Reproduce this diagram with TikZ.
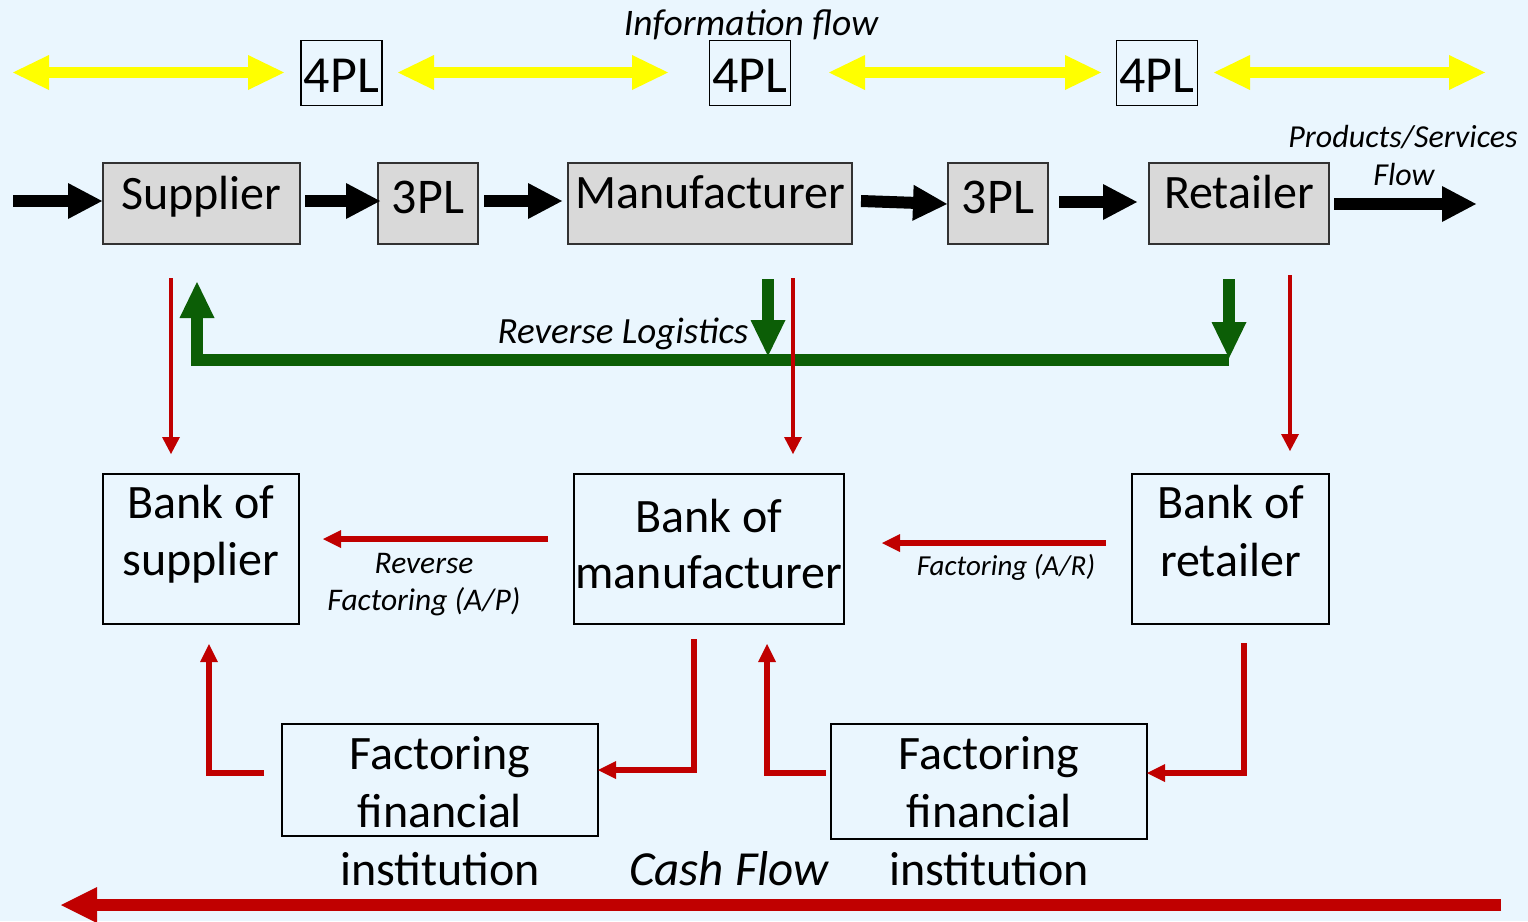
\documentclass[tikz,border=0pt]{standalone}
\usepackage{fontspec}
\setmainfont{Carlito}
\usetikzlibrary{arrows.meta}
\definecolor{bgblue}{RGB}{234,246,254}
\definecolor{cashred}{RGB}{192,0,0}
\definecolor{revgreen}{RGB}{12,94,6}
\definecolor{infoyellow}{RGB}{255,255,0}
\definecolor{boxgray}{RGB}{217,217,217}
\definecolor{boxedge}{RGB}{50,50,50}
\begin{document}
\begin{tikzpicture}[x=1pt,y=-1pt,
  every node/.style={inner sep=0pt,outer sep=0pt},
  bigfont/.style={font=\fontsize{48}{57}\selectfont},
  grayblock/.style={draw=boxedge,line width=1.8pt,fill=boxgray,minimum height=81pt},
  plbox/.style={draw=black,line width=1.8pt,minimum height=65pt,minimum width=81pt,
    text height=51.5pt,text depth=13.5pt,font=\fontsize{52}{60}\selectfont},
  bankbox/.style={draw=black,line width=1.8pt},
  infoarrow/.style={draw=infoyellow,line width=11pt,
    arrows={Triangle[length=36pt,width=35pt,line width=0pt]-Triangle[length=36pt,width=35pt,line width=0pt]}},
  goodsarrow/.style={draw=black,line width=12pt,
    arrows={-Triangle[length=34pt,width=36pt,line width=0pt]}},
  revarrow/.style={draw=revgreen,line width=12pt,line join=miter,
    arrows={-Triangle[length=36pt,width=35pt,line width=0pt]}},
  paythin/.style={draw=cashred,line width=4pt,
    arrows={-Triangle[length=17pt,width=18pt,line width=0pt]}},
  paymid/.style={draw=cashred,line width=5.5pt,line join=miter,
    arrows={-Triangle[length=18pt,width=18pt,line width=0pt]}},
  paybig/.style={draw=cashred,line width=12pt,
    arrows={-Triangle[length=36pt,width=36pt,line width=0pt]}},
  flowlabel/.style={anchor=base,font=\itshape\fontsize{#1}{#1}\selectfont}
]
% canvas
\useasboundingbox (0,0) rectangle (1528,921);
\fill[bgblue] (0,0) rectangle (1528,921);

% ---------- information flow (4PL) ----------
\node[flowlabel=37.5] (infolbl) at (751,35) {Information flow};
\node[plbox] (pla) at (341.5,73) {4PL};
\node[plbox] (plb) at (750,73) {4PL};
\node[plbox] (plc) at (1157,73) {4PL};
\coordinate (ia1) at (13,72.5);   \coordinate (ia2) at (284,72.5);
\coordinate (ib1) at (398,72.5);  \coordinate (ib2) at (668,72.5);
\coordinate (ic1) at (829,72.5);  \coordinate (ic2) at (1101,72.5);
\coordinate (id1) at (1214,72.5); \coordinate (id2) at (1485,72.5);
\draw[infoarrow] (ia1) -- (ia2);
\draw[infoarrow] (ib1) -- (ib2);
\draw[infoarrow] (ic1) -- (ic2);
\draw[infoarrow] (id1) -- (id2);

% ---------- products / services flow ----------
\node[grayblock,bigfont,minimum width=197pt,text height=46pt,text depth=35pt] (sup) at (201.5,203.5) {Supplier};
\node[grayblock,font=\fontsize{50}{60}\selectfont,minimum width=100pt,text height=50pt,text depth=31pt] (tpla) at (428,203.5) {3PL};
\node[grayblock,bigfont,minimum width=284pt,text height=45pt,text depth=36pt] (man) at (710,203.5) {Manufacturer};
\node[grayblock,font=\fontsize{50}{60}\selectfont,minimum width=100pt,text height=50pt,text depth=31pt] (tplb) at (998,203.5) {3PL};
\node[grayblock,bigfont,minimum width=180pt,text height=45pt,text depth=36pt] (ret) at (1239,203.5) {Retailer};
\node[flowlabel=32] (pslbl) at (1403,147) {Products/Services};
\node[flowlabel=32] (pslblb) at (1404,185) {Flow};

\coordinate (ga0) at (13,201);   \coordinate (gb0) at (102,201);
\coordinate (ga1) at (305,201);  \coordinate (gb1) at (380,201);
\coordinate (ga2) at (484,201);  \coordinate (gb2) at (562,201);
\coordinate (ga3) at (861,201);  \coordinate (gb3) at (947,204);
\coordinate (ga4) at (1059,202); \coordinate (gb4) at (1137,202);
\coordinate (ga5) at (1334,204); \coordinate (gb5) at (1476,204);
\draw[goodsarrow] (ga0) -- (gb0);
\draw[goodsarrow] (ga1) -- (gb1);
\draw[goodsarrow] (ga2) -- (gb2);
\draw[goodsarrow] (ga3) -- (gb3);
\draw[goodsarrow] (ga4) -- (gb4);
\draw[goodsarrow] (ga5) -- (gb5);

% ---------- reverse logistics ----------
\node[flowlabel=37] (rllbl) at (623,343) {Reverse Logistics};
\coordinate (rvs) at (1229,359.5); \coordinate (rvt) at (197,282);
\draw[revarrow] (rvs) -| (rvt);
\coordinate (rma) at (768,279);  \coordinate (rmb) at (768,356);
\coordinate (rra) at (1229,279); \coordinate (rrb) at (1229,358);
\draw[revarrow] (rma) -- (rmb);
\draw[revarrow] (rra) -- (rrb);

% ---------- payments to the banks ----------
\coordinate (psa) at (171,278);  \coordinate (psb) at (171,454);
\coordinate (pma) at (793,278);  \coordinate (pmb) at (793,454);
\coordinate (pra) at (1290,275); \coordinate (prb) at (1290,451);
\draw[paythin] (psa) -- (psb);
\draw[paythin] (pma) -- (pmb);
\draw[paythin] (pra) -- (prb);

% ---------- banks ----------
\node[bankbox,bigfont,minimum width=196pt,text height=44pt,text depth=106pt]
  (bsup) at (201,549) {\fontsize{48}{57}\selectfont\parbox[t]{196pt}{\centering Bank of\\supplier}};
\node[bankbox,bigfont,minimum width=270pt,text height=58pt,text depth=92pt]
  (bman) at (709,549) {\fontsize{48}{56}\selectfont\parbox[t]{270pt}{\centering Bank of\\manufacturer}};
\node[bankbox,bigfont,minimum width=197pt,text height=44pt,text depth=106pt]
  (bret) at (1230.5,549) {\fontsize{48}{58}\selectfont\parbox[t]{197pt}{\centering Bank of\\retailer}};

\coordinate (fpa) at (548,539);  \coordinate (fpb) at (323,539);
\coordinate (fra) at (1106,543); \coordinate (frb) at (882,543);
\draw[paymid,line width=6pt] (fpa) -- (fpb);
\draw[paymid,line width=6pt] (fra) -- (frb);
\node[flowlabel=31.5] (aplbl) at (424,573) {Reverse};
\node[flowlabel=31.5] (aplblb) at (424,610) {Factoring (A/P)};
\node[flowlabel=29] (arlbl) at (1006,575) {Factoring (A/R)};

% ---------- factoring institutions ----------
\node[bankbox,bigfont,minimum width=316pt,text height=45pt,text depth=67pt]
  (fina) at (440,780) {\fontsize{48}{58}\selectfont\parbox[t]{316pt}{\centering Factoring\\financial\\institution}};
\node[bankbox,bigfont,minimum width=316pt,text height=45pt,text depth=70pt]
  (finb) at (989,781.5) {\fontsize{48}{58}\selectfont\parbox[t]{316pt}{\centering Factoring\\financial\\institution}};

\coordinate (ea1) at (264,773);  \coordinate (eb1) at (209,644);
\coordinate (ea2) at (694,639);  \coordinate (eb2) at (598,770);
\coordinate (ea3) at (826,773);  \coordinate (eb3) at (767,644);
\coordinate (ea4) at (1244,643); \coordinate (eb4) at (1147,773);
\draw[paymid] (ea1) -| (eb1);
\draw[paymid] (ea2) |- (eb2);
\draw[paymid] (ea3) -| (eb3);
\draw[paymid] (ea4) |- (eb4);

% ---------- cash flow ----------
\node[flowlabel=49] (cashlbl) at (729,885) {Cash Flow};
\coordinate (cfa) at (1501,905); \coordinate (cfb) at (61,905);
\draw[paybig] (cfa) -- (cfb);
\end{tikzpicture}
\end{document}
